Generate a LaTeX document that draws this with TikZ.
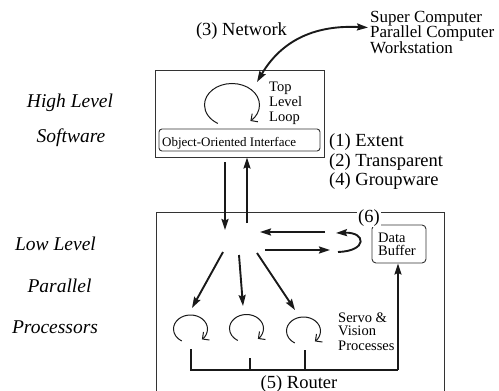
\documentclass[tikz,border=0pt]{standalone}
\usepackage{fontspec}
\setmainfont{Liberation Serif}
\usetikzlibrary{arrows.meta}
\begin{document}
\begin{tikzpicture}[x=1pt,y=-1pt,
  frame/.style={draw=black!80, line width=0.9pt, inner sep=0pt},
  flow/.style={draw=black!90, line width=1.9pt, -{Stealth[length=11pt,width=7pt,inset=1.5pt]}},
  bus/.style={draw=black!90, line width=1.9pt},
  spin/.style={draw=black!90, line width=1pt, -{Straight Barb[length=5pt,width=10pt]}},
  big/.style={font=\fontsize{18.5}{19}\selectfont, inner sep=0pt, anchor=base},
  side/.style={font=\fontsize{19.5}{20}\selectfont\itshape, inner sep=0pt, anchor=base},
  mid/.style={font=\fontsize{14.5}{14}\selectfont, inner sep=0pt, anchor=base west},
  host/.style={font=\fontsize{17}{16}\selectfont, inner sep=0pt, anchor=base west},
  % a cyclic process: an open ellipse drawn clockwise, ending in an open arrowhead
  whirl/.pic={
    \draw[spin] (-0.515,0.857) .. controls (-0.816,0.676) and (-1,0.351) .. (-1,0)
      .. controls (-1,-0.552) and (-0.552,-1) .. (0,-1)
      .. controls (0.552,-1) and (1,-0.552) .. (1,0)
      .. controls (1,0.283) and (0.880,0.553) .. (0.669,0.743);
  },
]
\useasboundingbox (0,0) rectangle (499,391);

% ---- side captions
\node[side] (hl1) at (70,107) {High Level};
\node[side] (hl2) at (71,142) {Software};
\node[side] (ll1) at (55.5,250) {Low Level};
\node[side] (ll2) at (59.5,292) {Parallel};
\node[side] (ll3) at (55,333) {Processors};

% ---- high level software box
\node[frame, minimum width=169pt, minimum height=87pt] (hl) at (239.5,113.5) {};
\node[frame, rounded corners=3pt, minimum width=161pt, minimum height=22pt] (ooi) at (239.5,140) {};
\node[font=\fontsize{13}{13}\selectfont, inner sep=0pt, anchor=base west] (ooit) at (162,146) {Object-Oriented Interface};
\pic[xscale=27.5, yscale=21.5] at (232,105) {whirl};
\node[mid] (t1) at (269,91) {Top};
\node[mid] (t2) at (269,106) {Level};
\node[mid] (t3) at (269,121) {Loop};

% ---- network link to remote machines
\node[big] (net) at (241.5,35) {(3) Network};
\node[host] (h1) at (370,22) {Super Computer};
\node[host] (h2) at (370,37.5) {Parallel Computer};
\node[host] (h3) at (370,53) {Workstation};
\coordinate (netA) at (257,82);
\coordinate (netB) at (368,27.5);
\draw[line width=1.9pt, draw=black!90, {Stealth[length=11pt,width=7pt,inset=1.5pt]}-{Stealth[length=11pt,width=7pt,inset=1.5pt]}]
  (netA) .. controls (283,38) and (318,25) .. (netB);

% ---- interface properties
\node[big, anchor=base west] (p1) at (329,146.5) {(1) Extent};
\node[big, anchor=base west] (p2) at (329,166) {(2) Transparent};
\node[big, anchor=base west] (p4) at (329,185) {(4) Groupware};

% ---- low level box (runs off the bottom edge)
\draw[frame] (156,391) |- (444,212) -- (444,391);
\node[frame, rounded corners=4pt, minimum width=54pt, minimum height=38pt] (buf) at (399,244) {};
\node[mid] (b1) at (378,242.5) {Data};
\node[mid] (b2) at (378,255.5) {Buffer};
\node[big, fill=white, inner sep=1pt] (six) at (369,222) {(6)};

% ---- links between the two levels
\coordinate (dn0) at (225,162);
\coordinate (dn1) at (225,230);
\coordinate (up0) at (247,223);
\draw[flow] (dn0) -- (dn1);
\draw[flow] (up0) -- (hl.south -| up0);

% ---- exchange with the data buffer
\coordinate (xl0) at (325,232);
\coordinate (xl1) at (260,232);
\coordinate (xr0) at (265,250);
\coordinate (xr1) at (330,250);
\draw[flow] (xl0) -- (xl1);
\draw[flow] (xr0) -- (xr1);
\coordinate (u0) at (338,252);
\coordinate (u1) at (336,233);
\draw[flow] (u0) .. controls (368,251) and (366,232) .. (u1);

% ---- dispatch to the processes
\coordinate (d1a) at (223,252);
\coordinate (d1b) at (192,308);
\coordinate (d2a) at (239,255);
\coordinate (d2b) at (243,306);
\coordinate (d3a) at (257,253);
\coordinate (d3b) at (295,310);
\draw[flow] (d1a) -- (d1b);
\draw[flow] (d2a) -- (d2b);
\draw[flow] (d3a) -- (d3b);

% ---- process loops
\pic[xscale=17, yscale=14] at (190.5,329) {whirl};
\pic[xscale=17, yscale=14] at (246.5,328.5) {whirl};
\pic[xscale=17, yscale=14] at (303.5,331) {whirl};
\node[mid] (s1) at (338,322) {Servo \&};
\node[mid] (s2) at (338,335) {Vision};
\node[mid] (s3) at (338,350) {Processes};

% ---- router
\coordinate (r1) at (191,349);
\coordinate (r2) at (250,358);
\coordinate (r3) at (305,350);
\coordinate (rl) at (191,370);
\coordinate (rr) at (398,370);
\draw[bus] (r1) -- (rl) -- (rr);
\draw[bus] (r2) -- (r2 |- rl);
\draw[bus] (r3) -- (r3 |- rl);
\draw[flow] (rr) -- (buf.south -| rr);
\node[big] (rt) at (299,388) {(5) Router};
\end{tikzpicture}
\end{document}
